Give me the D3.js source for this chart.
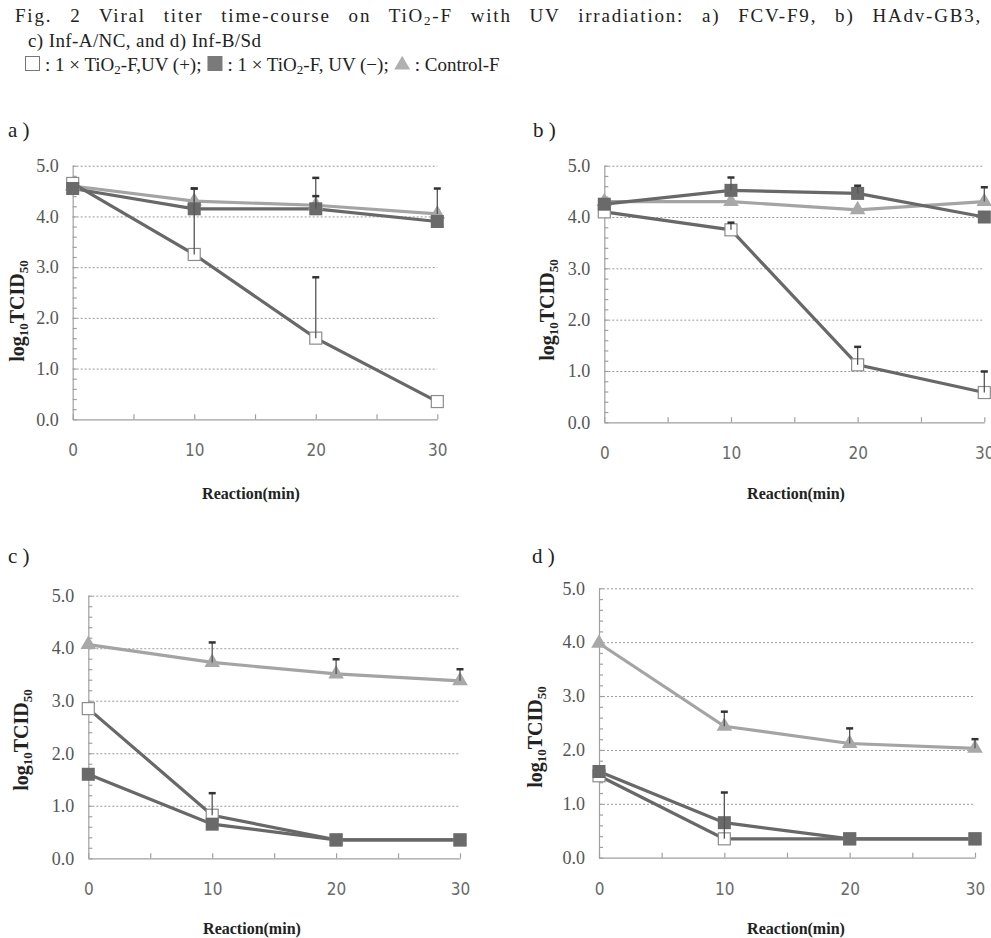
<!DOCTYPE html>
<html>
<head>
<meta charset="utf-8">
<script src="https://cdn.jsdelivr.net/npm/d3@7"></script>
<style>
  body { margin: 0; background: #fff; }
  svg { display: block; }
</style>
</head>
<body>
<svg width="991" height="938"></svg>
<script>
// time points (min)
var times = [0, 10, 20, 30];
var yTicks = [0, 1, 2, 3, 4, 5];

// a) FCV-F9
var uvOnA = [4.65, 3.25, 1.6, 0.35],   uvOnErrA = [0, 1.3, 1.2, 0];
var uvOffA = [4.55, 4.15, 4.15, 3.9],  uvOffErrA = [0, 0, 0.25, 0];
var ctrlA = [4.6, 4.3, 4.22, 4.05],    ctrlErrA = [0, 0.25, 0.54, 0.5];
// b) HAdv-GB3
var uvOnB = [4.1, 3.75, 1.12, 0.58],   uvOnErrB = [0, 0.14, 0.35, 0.41];
var uvOffB = [4.25, 4.52, 4.46, 4.0],  uvOffErrB = [0, 0.25, 0.15, 0];
var ctrlB = [4.3, 4.3, 4.14, 4.3],     ctrlErrB = [0, 0, 0, 0.28];
// c) Inf-A/NC
var uvOnC = [2.85, 0.82, 0.35, 0.35],  uvOnErrC = [0, 0.42, 0, 0];
var uvOffC = [1.6, 0.65, 0.35, 0.35],  uvOffErrC = [0, 0, 0, 0];
var ctrlC = [4.07, 3.73, 3.51, 3.38],  ctrlErrC = [0, 0.38, 0.28, 0.22];
// d) Inf-B/Sd
var uvOnD = [1.52, 0.35, 0.35, 0.35],  uvOnErrD = [0, 0.86, 0, 0];
var uvOffD = [1.6, 0.65, 0.35, 0.35],  uvOffErrD = [0, 0, 0, 0];
var ctrlD = [3.98, 2.44, 2.12, 2.03],  ctrlErrD = [0, 0.27, 0.28, 0.17];

var panels = [
  {tag: "a )", box: [72.7, 437.3, 165.7, 419.3], tagPos: [8, 137], yl: [17, 311], xl: [251, 499],
   on: uvOnA, onErr: uvOnErrA, off: uvOffA, offErr: uvOffErrA, ctrl: ctrlA, ctrlErr: ctrlErrA},
  {tag: "b )", box: [604.3, 984.3, 165.7, 422.3], tagPos: [533, 137], yl: [547, 310], xl: [796, 499],
   on: uvOnB, onErr: uvOnErrB, off: uvOffB, offErr: uvOffErrB, ctrl: ctrlB, ctrlErr: ctrlErrB},
  {tag: "c )", box: [88.3, 460, 595.7, 858.3], tagPos: [8, 563], yl: [21, 740], xl: [252, 934],
   on: uvOnC, onErr: uvOnErrC, off: uvOffC, offErr: uvOffErrC, ctrl: ctrlC, ctrlErr: ctrlErrC},
  {tag: "d )", box: [599, 975, 588.3, 857.7], tagPos: [532, 563], yl: [535, 737], xl: [796, 934],
   on: uvOnD, onErr: uvOnErrD, off: uvOffD, offErr: uvOffErrD, ctrl: ctrlD, ctrlErr: ctrlErrD}
];

var serif = "'Liberation Serif', 'DejaVu Serif', serif",
    narrow = "'Liberation Sans Narrow', 'DejaVu Sans Condensed', 'Liberation Sans', sans-serif";

var darkLine = "#686868", lightLine = "#a4a4a4";

var svg = d3.select("svg");

// caption
var cap = svg.append("g").attr("fill", "#222").style("font-family", serif).style("font-size", "19px");
var l1 = cap.append("text").attr("x", 15).attr("y", 22).style("letter-spacing", "1.8px");
l1.append("tspan").text("Fig. 2  Viral titer time-course on TiO");
l1.append("tspan").attr("font-size", 13).attr("dy", 3).text("2");
l1.append("tspan").attr("dy", -3).text("-F with UV irradiation: a) FCV-F9, b) HAdv-GB3,");
// spread the words out to the full line width, like the justified original
var natural = l1.node().getComputedTextLength();
l1.style("word-spacing", Math.max(0, (967 - natural) / 13).toFixed(2) + "px");

cap.append("text").attr("x", 28).attr("y", 47).style("letter-spacing", "0.4px")
    .text("c) Inf-A/NC, and d) Inf-B/Sd");

// legend line: symbols and texts laid out in a row
function tio(sel, str1, str2) {
  var t = sel.append("text").attr("y", 71);
  t.append("tspan").text(str1);
  t.append("tspan").attr("font-size", 13).attr("dy", 3).text("2");
  t.append("tspan").attr("dy", -3).text(str2);
  return t;
}
var legItems = [
  {kind: "open"}, {t: tio(cap, ": 1 × TiO", "-F,UV (+);")},
  {kind: "fill"}, {t: tio(cap, ": 1 × TiO", "-F, UV (−);")},
  {kind: "tri"}, {t: cap.append("text").attr("y", 71).text(": Control-F")}
];
var cx = 25;
legItems.forEach(function(it) {
  if (it.t) {
    it.t.attr("x", cx);
    cx += it.t.node().getComputedTextLength() + 6;
    return;
  }
  if (it.kind === "open") cap.append("rect").attr("x", cx + 0.5).attr("y", 56.5).attr("width", 14).attr("height", 14)
      .attr("fill", "#fff").attr("stroke", "#777");
  else if (it.kind === "fill") cap.append("rect").attr("x", cx).attr("y", 56).attr("width", 15).attr("height", 15)
      .attr("fill", "#7a7a7a");
  else cap.append("path").attr("d", d3.symbol().type(d3.symbolTriangle).size(110)())
      .attr("transform", "translate(" + (cx + 7.5) + ",65)").attr("fill", "#b0b0b0");
  cx += 20;
});

panels.forEach(function(p) {
  var x = d3.scaleLinear().domain([0, 30]).range([p.box[0], p.box[1]]);
  var y = d3.scaleLinear().domain([0, 5]).range([p.box[3], p.box[2]]);
  var g = svg.append("g");

  // panel tag
  g.append("text").attr("x", p.tagPos[0]).attr("y", p.tagPos[1])
      .style("font-family", serif).style("font-size", "21px").attr("fill", "#222").text(p.tag);

  // dotted grid
  g.append("g").selectAll("line").data(yTicks.slice(1)).enter().append("line")
      .attr("x1", x(0)).attr("x2", x(30))
      .attr("y1", function(d) { return y(d) + 0.5; })
      .attr("y2", function(d) { return y(d) + 0.5; })
      .attr("stroke", "#9a9a9a").attr("stroke-width", 1).attr("stroke-dasharray", "2,2");

  // y axis with minor ticks
  var yAxis = d3.axisLeft(y).tickValues(d3.range(0, 5.01, 0.2))
      .tickSizeInner(-4).tickSizeOuter(0).tickPadding(14)
      .tickFormat(function(d) { return Math.abs(d - Math.round(d)) < 1e-6 ? d3.format(".1f")(d) : ""; });
  var ya = g.append("g").attr("transform", "translate(" + x(0) + ",0)").call(yAxis);
  ya.attr("font-family", null);
  ya.selectAll("path, line").attr("stroke", "#a0a0a0").attr("stroke-width", 1.2);
  ya.selectAll("text").style("font-family", serif).style("font-size", "18px").attr("fill", "#555");

  // x axis
  var xAxis = d3.axisBottom(x).tickValues(d3.range(0, 31, 5))
      .tickSizeInner(-5).tickSizeOuter(0).tickPadding(25)
      .tickFormat(function(d) { return d % 10 === 0 ? d : ""; });
  var xa = g.append("g").attr("transform", "translate(0," + y(0) + ")").call(xAxis);
  xa.selectAll("path, line").attr("stroke", "#a0a0a0").attr("stroke-width", 1.2);
  xa.selectAll("text").style("font-family", narrow).style("font-size", "17px").attr("fill", "#6a6a6a");

  // axis titles
  var yt = g.append("text").attr("transform", "translate(" + (p.yl[0] + 7) + "," + p.yl[1] + ") rotate(-90)")
      .attr("text-anchor", "middle").style("font-family", serif).style("font-weight", "bold")
      .style("font-size", "20px").attr("fill", "#222");
  yt.append("tspan").text("log");
  yt.append("tspan").attr("font-size", 13).attr("dy", 4).text("10");
  yt.append("tspan").attr("dy", -4).text("TCID");
  yt.append("tspan").attr("font-size", 13).attr("dy", 4).text("50");

  g.append("text").attr("x", p.xl[0]).attr("y", p.xl[1]).attr("text-anchor", "middle")
      .style("font-family", serif).style("font-weight", "bold").style("font-size", "16px")
      .attr("fill", "#222").text("Reaction(min)");

  var line = d3.line().x(function(d, i) { return x(times[i]); }).y(function(d) { return y(d); });

  var series = [
    {v: p.ctrl, e: p.ctrlErr, stroke: lightLine, kind: "tri"},
    {v: p.on, e: p.onErr, stroke: darkLine, kind: "open"},
    {v: p.off, e: p.offErr, stroke: darkLine, kind: "fill"}
  ];

  series.forEach(function(s) {
    g.append("path").datum(s.v).attr("d", line)
        .attr("fill", "none").attr("stroke", s.stroke).attr("stroke-width", 3.2);
  });

  series.forEach(function(s) {
    var m = g.append("g").selectAll("g").data(s.v).enter().append("g")
        .attr("transform", function(d, i) { return "translate(" + x(times[i]) + "," + y(d) + ")"; });
    if (s.kind === "tri") {
      m.append("path").attr("d", d3.symbol().type(d3.symbolTriangle).size(105)())
          .attr("fill", "#a8a8a8");
    } else if (s.kind === "open") {
      m.append("rect").attr("x", -6).attr("y", -6).attr("width", 12).attr("height", 12)
          .attr("fill", "#fff").attr("stroke", "#8c8c8c").attr("stroke-width", 1.2);
    } else {
      m.append("rect").attr("x", -6.5).attr("y", -6.5).attr("width", 13).attr("height", 13)
          .attr("fill", "#6a6a6a");
    }
  });

  // upper error bars
  series.forEach(function(s) {
    var eb = g.append("g").selectAll("g").data(s.v.map(function(d, i) { return {i: i, v: d, e: s.e[i]}; })
        .filter(function(d) { return d.e > 0; })).enter().append("g");
    eb.append("line")
        .attr("x1", function(d) { return x(times[d.i]); }).attr("x2", function(d) { return x(times[d.i]); })
        .attr("y1", function(d) { return y(d.v); }).attr("y2", function(d) { return y(d.v + d.e); })
        .attr("stroke", "#555").attr("stroke-width", 1.3);
    eb.append("line")
        .attr("x1", function(d) { return x(times[d.i]) - 3.5; }).attr("x2", function(d) { return x(times[d.i]) + 3.5; })
        .attr("y1", function(d) { return y(d.v + d.e); }).attr("y2", function(d) { return y(d.v + d.e); })
        .attr("stroke", "#333").attr("stroke-width", 2.5);
  });
});
</script>
</body>
</html>
